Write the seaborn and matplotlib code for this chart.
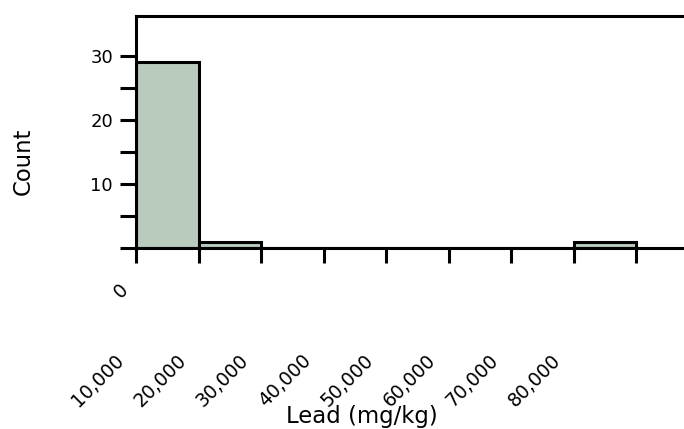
import matplotlib
matplotlib.use("Agg")
import matplotlib.pyplot as plt
import matplotlib.transforms as mtrans
import seaborn as sns
import numpy as np

# ---- data ----
bin_starts = [0, 10000, 20000, 30000, 40000, 50000, 60000, 70000]
counts = [29, 1, 0, 0, 0, 0, 0, 1]
bin_width = 10000
x_tick_values = [0, 10000, 20000, 30000, 40000, 50000, 60000, 70000, 80000]
x_tick_labels = ["0", "10,000", "20,000", "30,000", "40,000", "50,000",
                 "60,000", "70,000", "80,000"]
y_major = [0, 10, 20, 30]
y_major_labels = ["", "10", "20", "30"]
y_minor = [5, 15, 25]
x_title = "Lead (mg/kg)"
y_title = "Count"

sns.set_theme(style="white")
plt.rcParams['font.family'] = ['DejaVu Sans']
plt.rcParams['text.color'] = 'black'
plt.rcParams['axes.labelcolor'] = 'black'

W, H = 684, 429
fig = plt.figure(figsize=(W / 100, H / 100), dpi=100)
ax = fig.add_axes([136 / W, 181 / H, 548 / W, 232.3 / H])

centers = np.array(bin_starts) + bin_width / 2
edges = list(bin_starts) + [bin_starts[-1] + bin_width]
sns.histplot(x=centers, weights=counts, bins=edges, ax=ax,
             color="#b9cbbc", alpha=1, edgecolor="black", linewidth=2.2)

ax.set_xlim(0, 87680)
ax.set_ylim(0, 36.3)

lw = 2.2
for side in ["left", "top", "bottom"]:
    ax.spines[side].set_visible(True)
    ax.spines[side].set_color("black")
    ax.spines[side].set_linewidth(lw)
ax.spines["right"].set_visible(False)

ax.set_yticks(y_major)
ax.set_yticklabels(y_major_labels)
ax.set_yticks(y_minor, minor=True)
ax.tick_params(axis="y", which="both", direction="out", length=11.5,
               width=lw, left=True, labelsize=13, pad=5, colors="black")
ax.tick_params(axis="x", which="major", direction="out", length=10.8,
               width=lw, bottom=True, labelsize=13.5, pad=0, colors="black")

ax.set_xticks(x_tick_values)
ax.set_xticklabels(x_tick_labels, rotation=45, ha="center", va="center",
                   rotation_mode="anchor", fontsize=13.5, color="black")

for i, lab in enumerate(ax.get_xticklabels()):
    if i == 0:
        dx, dy = -15, -28
    else:
        dx, dy = -101, -118
    off = mtrans.ScaledTranslation(dx / 100, dy / 100, fig.dpi_scale_trans)
    lab.set_transform(lab.get_transform() + off)

ax.set_xlabel(x_title, fontsize=16.4, va="center", ha="center", color="black")
ax.xaxis.set_label_coords((362 - 136) / 548, (12 - 181) / 232.3)
ax.set_ylabel(y_title, fontsize=16.4, va="center", ha="center", color="black")
ax.yaxis.set_label_coords((23 - 136) / 548, (268 - 181) / 232.3)

fig.savefig("out.png", dpi=100)
